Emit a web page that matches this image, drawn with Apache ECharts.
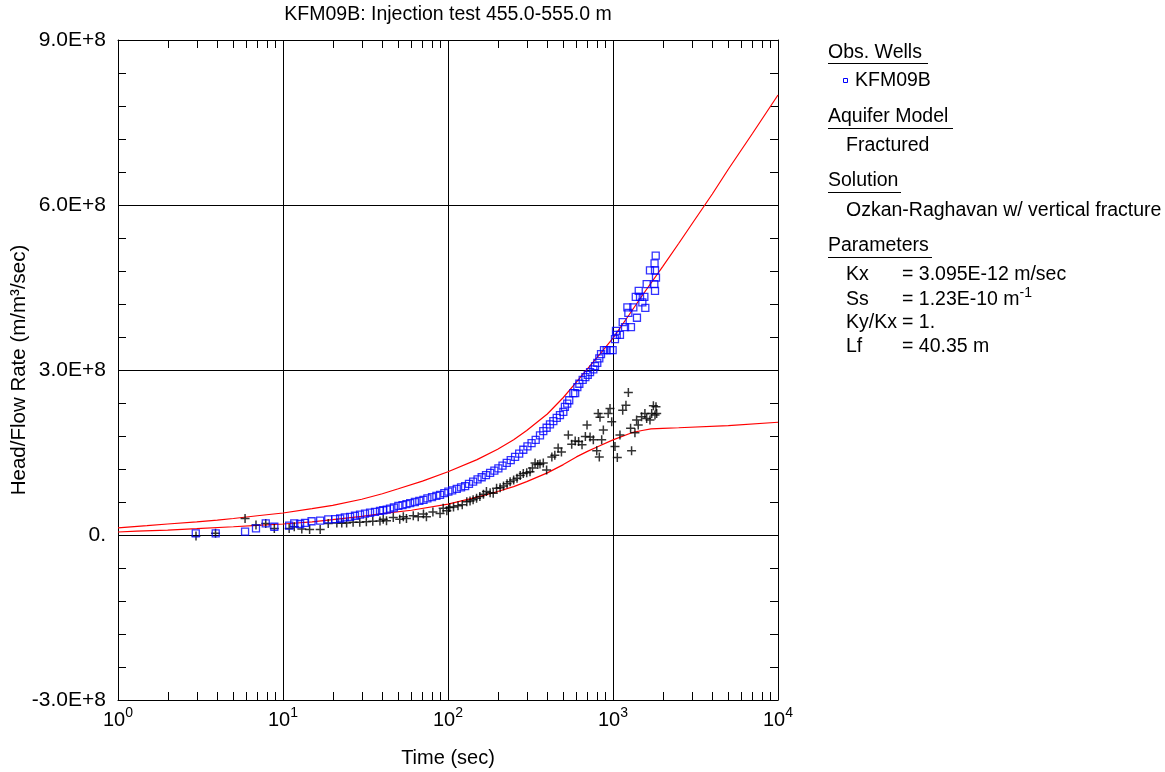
<!DOCTYPE html>
<html><head><meta charset="utf-8">
<script src="https://cdn.jsdelivr.net/npm/echarts@6/dist/echarts.min.js"></script>
<style>html,body{margin:0;padding:0;background:#fff}#c{width:1165px;height:772px}</style>
</head><body><div id="c"></div>
<script>
// ---- data ----
const obsTime = [2.96,3.91,5.89,6.86,7.86,8.86,10.9,11.7,12.7,13.6,14.9,16.8,18.8,20.7,22.2,23.7,25.5,27.3,29.3,31.4,33.7,36.1,38.7,40.5,42.5,44.5,47,50,53,56,59,63,67,71,75,80,85,89.5,95,100.5,106,113,120,127,134,142,151,160,170,180,191,202,214,227,240,255,270,286,303,321,340,361,378,396,415,435,456,477,500,511,528,543,575,590,608,625,655,680,703,726,760,778,803,826,846,882,915,959,995,1028,1043,1053,1102,1145,1183,1285,1222,1328,1239,1397,1374,1458,1549,1506,1570,1432,1600,1780,1797,1822,1675,1797,1786,1815];
const obsHead = [3e6,3e6,6e6,1.2e7,2.1e7,1.5e7,1.7e7,2.1e7,2.0e7,2.2e7,2.5e7,2.6e7,2.85e7,2.9e7,3.0e7,3.2e7,3.3e7,3.5e7,3.7e7,3.9e7,4.05e7,4.2e7,4.4e7,4.5e7,4.6e7,4.8e7,5.0e7,5.3e7,5.45e7,5.6e7,5.8e7,6.0e7,6.2e7,6.4e7,6.65e7,6.9e7,7.1e7,7.3e7,7.6e7,7.9e7,8.1e7,8.4e7,8.65e7,8.9e7,9.3e7,9.7e7,1.01e8,1.05e8,1.09e8,1.13e8,1.17e8,1.21e8,1.26e8,1.31e8,1.36e8,1.42e8,1.48e8,1.55e8,1.61e8,1.67e8,1.73e8,1.81e8,1.89e8,1.95e8,2.01e8,2.07e8,2.13e8,2.18e8,2.24e8,2.33e8,2.39e8,2.45e8,2.58e8,2.58e8,2.69e8,2.75e8,2.82e8,2.87e8,2.91e8,2.96e8,3.01e8,3.07e8,3.13e8,3.21e8,3.29e8,3.36e8,3.36e8,3.36e8,3.36e8,3.56e8,3.71e8,3.64e8,3.64e8,3.87e8,3.78e8,3.78e8,4.14e8,4.14e8,4.04e8,3.95e8,4.33e8,4.33e8,4.33e8,4.23e8,4.13e8,4.44e8,4.56e8,4.56e8,4.44e8,4.68e8,4.81e8,4.81e8,4.94e8,5.08e8];

const derTime = [2.97,3.9,5.89,6.86,7.86,8.86,10.9,11.7,13,14.5,16.8,18.8,21.2,22.7,24.3,26.6,29.2,32,35,38.7,40.5,42.4,46.6,51,53.6,56,61.6,66,71,74,81,89.5,93.5,98.4,102.5,108,115,122,130,136,142,149,156,164,171,180,188,197,207,217,228,238,250,262,274,286,300,314,325,337,350,361,378,396,426,444,465,487,536,562,590,619,649,680,696,726,760,797,826,854,874,813,834,935,959,982,1028,1062,1102,1145,1198,1239,1278,1296,1358,1390,1422,1490,1561,1600,1675,1716,1757,1797,1840,1822];
const derValue = [-2e6,3e6,3.0e7,1.8e7,2.1e7,1.2e7,1.2e7,1.5e7,1.1e7,1.0e7,1.0e7,2.1e7,2.2e7,2.2e7,2.2e7,2.3e7,2.3e7,2.4e7,2.5e7,2.55e7,2.85e7,2.6e7,3.2e7,2.85e7,3.3e7,3.0e7,3.5e7,3.3e7,3.8e7,3.3e7,4.2e7,3.9e7,4.85e7,4.4e7,5.0e7,5.1e7,5.3e7,5.5e7,6.05e7,6.2e7,6.4e7,6.7e7,7.0e7,7.4e7,7.9e7,7.7e7,7.6e7,8.5e7,8.6e7,8.9e7,9.3e7,9.7e7,1.0e8,1.03e8,1.08e8,1.12e8,1.13e8,1.15e8,1.22e8,1.31e8,1.28e8,1.29e8,1.31e8,1.18e8,1.42e8,1.45e8,1.58e8,1.51e8,1.82e8,1.65e8,1.71e8,1.70e8,1.64e8,1.79e8,2.0e8,1.78e8,1.73e8,1.53e8,1.42e8,1.73e8,1.91e8,2.21e8,2.14e8,2.21e8,2.30e8,2.06e8,1.61e8,1.41e8,1.82e8,2.27e8,2.36e8,2.59e8,1.94e8,1.53e8,1.86e8,2.09e8,2.0e8,2.15e8,2.21e8,2.12e8,2.09e8,2.21e8,2.35e8,2.18e8,2.21e8,2.33e8];

const fitTime = [1,1.5,2,3,4,5,7,10,15,20,30,40,50,70,100,150,200,250,300,400,500,600,700,850,1000,1250,1500,2000,2500,3000,4000,5000,7000,10000];
const fitValue = [1.3e7,1.7e7,2.0e7,2.4e7,2.7e7,3.0e7,3.5e7,4.0e7,4.8e7,5.4e7,6.5e7,7.5e7,8.4e7,9.8e7,1.15e8,1.37e8,1.56e8,1.73e8,1.9e8,2.2e8,2.5e8,2.78e8,3.02e8,3.32e8,3.58e8,4.0e8,4.35e8,4.88e8,5.3e8,5.65e8,6.2e8,6.65e8,7.3e8,8.0e8];

const fitDerTime = [1,1.3,2,3,5,7,10,15,20,30,40,60,100,150,200,250,300,400,500,600,700,800,1000,1300,1500,1700,2000,2500,5000,10000];
const fitDerValue = [5.5e6,7e6,9e6,1.15e7,1.5e7,1.75e7,2.0e7,2.4e7,2.8e7,3.4e7,3.9e7,4.5e7,5.6e7,6.9e7,7.9e7,8.8e7,9.7e7,1.13e8,1.28e8,1.42e8,1.52e8,1.6e8,1.73e8,1.86e8,1.9e8,1.93e8,1.94e8,1.95e8,1.99e8,2.05e8];

const yTickLabels = {'900000000':'9.0E+8','600000000':'6.0E+8','300000000':'3.0E+8','0':'0.','-300000000':'-3.0E+8'};
const xMinorTicks = [2,3,4,5,6,7,8,9,20,30,40,50,60,70,80,90,200,300,400,500,600,700,800,900,2000,3000,4000,5000,6000,7000,8000,9000];

const zip = (a,b) => a.map((v,i)=>[v,b[i]]);
const FONT = 'Liberation Sans, Arial, sans-serif';
const Y_MIN = -3e8, Y_MAX = 9e8;

const chart = echarts.init(document.getElementById('c'), null, {renderer:'canvas'});

const legendFont = 19.5;
const legendTexts = [
  {t:'Obs. Wells', x:828, y:53},
  {t:'KFM09B', x:855, y:81},
  {t:'Aquifer Model', x:828, y:117},
  {t:'Fractured', x:846, y:146},
  {t:'Solution', x:828, y:181},
  {t:'Ozkan-Raghavan w/ vertical fracture', x:846, y:211},
  {t:'Parameters', x:828, y:246},
  {t:'Kx', x:846, y:275},
  {t:'Ss', x:846, y:300},
  {t:'Ky/Kx', x:846, y:323},
  {t:'Lf', x:846, y:347},
  {t:'= 3.095E-12 m/sec', x:902, y:275},
  {t:'= 1.23E-10 m', x:902, y:300, sup:'-1'},
  {t:'= 1.', x:902, y:323},
  {t:'= 40.35 m', x:902, y:347}
];
const graphics = [];
graphics.push({type:'text', x:448, y:15, style:{text:'KFM09B: Injection test 455.0-555.0 m', font:'19.5px '+FONT, fill:'#000', align:'center', verticalAlign:'middle'}});
legendTexts.forEach(l=>{
  if (l.sup) {
    graphics.push({type:'text', x:l.x, y:l.y, style:{text:'{a|'+l.t+'}{s|'+l.sup+'}', verticalAlign:'middle', align:'left',
      rich:{a:{fontSize:legendFont, fontFamily:FONT, fill:'#000'}, s:{fontSize:14, fontFamily:FONT, fill:'#000', padding:[0,0,14,0]}}}});
  } else {
    graphics.push({type:'text', x:l.x, y:l.y, style:{text:l.t, font:legendFont+'px '+FONT, fill:'#000', align:'left', verticalAlign:'middle'}});
  }
});
// underlines
[[828,63,928],[828,128,953],[828,192,901],[828,257,932]].forEach(u=>{
  graphics.push({type:'line', shape:{x1:u[0],y1:u[1]+0.5,x2:u[2],y2:u[1]+0.5}, style:{stroke:'#000', lineWidth:1}});
});
graphics.push({type:'rect', shape:{x:843.5,y:78.5,width:4,height:4}, style:{fill:'none', stroke:'#0000ff', lineWidth:1}});

const option = {
  backgroundColor:'#fff',
  animation:false,
  grid:{left:118, top:40, width:660, height:660, containLabel:false, outerBoundsMode:'none'},
  xAxis:[{
    type:'log', logBase:10, min:1, max:10000,
    name:'Time (sec)', nameLocation:'middle', nameGap:48, nameMoveOverlap:false,
    nameTextStyle:{fontFamily:FONT, fontSize:20, color:'#000'},
    axisLine:{show:true, onZero:false, lineStyle:{color:'#000', width:1}},
    axisTick:{show:false},
    splitLine:{show:true, lineStyle:{color:'#000', width:1}},
    axisLabel:{
      margin:6, showMinLabel:true, showMaxLabel:true,
      formatter:(v)=>'{b|10}{s|'+Math.round(Math.log10(v))+'}',
      rich:{b:{fontFamily:FONT, fontSize:20, color:'#000'}, s:{fontFamily:FONT, fontSize:14, color:'#000', padding:[0,0,15,0]}}
    }
  },{
    type:'log', logBase:10, min:1, max:10000, position:'top',
    axisLine:{show:true, onZero:false, lineStyle:{color:'#000', width:1}},
    axisTick:{show:false}, axisLabel:{show:false}, splitLine:{show:false}
  }],
  yAxis:[{
    type:'value', min:Y_MIN, max:Y_MAX, interval:3e8,
    name:'Head/Flow Rate (m/m³/sec)', nameLocation:'middle', nameGap:88, nameRotate:90, nameMoveOverlap:false,
    nameTextStyle:{fontFamily:FONT, fontSize:20.5, color:'#000'},
    axisLine:{show:true, onZero:false, lineStyle:{color:'#000', width:1}},
    axisTick:{show:true, inside:true, length:10, lineStyle:{color:'#000'}},
    minorTick:{show:true, splitNumber:5, length:8, lineStyle:{color:'#000'}},
    splitLine:{show:true, lineStyle:{color:'#000', width:1}},
    axisLabel:{margin:12, fontFamily:FONT, fontSize:21, color:'#000', formatter:(v)=>yTickLabels[String(v)] || ''}
  },{
    type:'value', min:Y_MIN, max:Y_MAX, interval:3e8, position:'right',
    axisLine:{show:true, onZero:false, lineStyle:{color:'#000', width:1}},
    axisTick:{show:true, inside:true, length:10, lineStyle:{color:'#000'}},
    minorTick:{show:true, splitNumber:5, length:8, lineStyle:{color:'#000'}},
    axisLabel:{show:false}, splitLine:{show:false}
  }],
  series:[
    {type:'custom', xAxisIndex:0, yAxisIndex:0, silent:true, clip:false,
     data: xMinorTicks.map(t=>[t,0]),
     renderItem:(params, api)=>{
       const t = api.value(0);
       const b = api.coord([t, Y_MIN]); const tp = api.coord([t, Y_MAX]);
       const x = Math.round(b[0]) + 0.5;
       return {type:'group', children:[
         {type:'line', shape:{x1:x,y1:b[1],x2:x,y2:b[1]-8}, style:{stroke:'#000', lineWidth:1}},
         {type:'line', shape:{x1:x,y1:tp[1],x2:x,y2:tp[1]+8}, style:{stroke:'#000', lineWidth:1}}
       ]};
     }},
    {type:'line', data:zip(fitTime, fitValue), showSymbol:false, smooth:false,
     lineStyle:{color:'#ff0000', width:1.2}, silent:true, z:3},
    {type:'line', data:zip(fitDerTime, fitDerValue), showSymbol:false, smooth:false,
     lineStyle:{color:'#ff0000', width:1.2}, silent:true, z:3},
    {type:'scatter', data:zip(derTime, derValue), symbol:'path://M5,0L5,10M0,5L10,5', symbolSize:9,
     itemStyle:{color:'none', borderColor:'#000', borderWidth:1.5}, z:4},
    {type:'scatter', data:zip(obsTime, obsHead), symbol:'rect', symbolSize:7,
     itemStyle:{color:'none', borderColor:'#0000ff', borderWidth:1.3}, z:5}
  ],
  graphic: graphics
};
chart.setOption(option);
</script>
</body></html>
